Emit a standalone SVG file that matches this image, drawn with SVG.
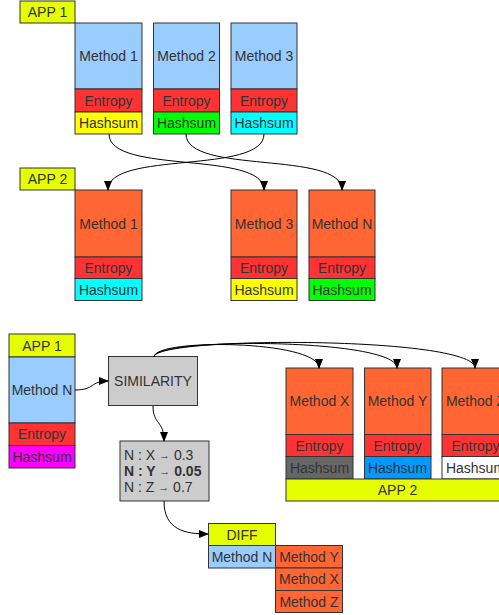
<svg xmlns="http://www.w3.org/2000/svg" width="499" height="615" viewBox="0 0 499 615">
<defs>
<marker id="ah" markerWidth="10" markerHeight="10" refX="9" refY="5" orient="auto" markerUnits="userSpaceOnUse">
<path d="M0,1 L10,5 L0,9 Z" fill="#000"/>
</marker>
<style>
.b rect{stroke:#333;stroke-width:1}
text{font-family:"Liberation Sans",Arial,sans-serif;font-size:14px;fill:#333;text-anchor:middle;dominant-baseline:central}
.app{fill:#e5ff00}
.m1{fill:#99ccff}
.m2{fill:#ff6633}
.en{fill:#ff3333}
.gr{fill:#cccccc}
.c{fill:none;stroke:#000;stroke-width:1;marker-end:url(#ah)}
.l{text-anchor:start}
</style>
</defs>
<rect width="499" height="615" fill="#fff"/>
<g class="b">
<g id="top-app1"><rect class="app" x="20" y="1" width="55" height="22"/><text x="47.5" y="12">APP 1</text></g>
<g id="a1-m1"><rect class="m1" x="75" y="23" width="67" height="66"/><text x="108.5" y="56">Method 1</text><rect class="en" x="75" y="89" width="67" height="23"/><text x="108.5" y="100.5">Entropy</text><rect fill="#ffff00" x="75" y="112" width="67" height="22"/><text x="108.5" y="123">Hashsum</text></g>
<g id="a1-m2"><rect class="m1" x="153.5" y="23" width="66" height="66"/><text x="186.5" y="56">Method 2</text><rect class="en" x="153.5" y="89" width="66" height="23"/><text x="186.5" y="100.5">Entropy</text><rect fill="#00ff00" x="153.5" y="112" width="66" height="22"/><text x="186.5" y="123">Hashsum</text></g>
<g id="a1-m3"><rect class="m1" x="231" y="23" width="66" height="66"/><text x="264" y="56">Method 3</text><rect class="en" x="231" y="89" width="66" height="23"/><text x="264" y="100.5">Entropy</text><rect fill="#00ffff" x="231" y="112" width="66" height="22"/><text x="264" y="123">Hashsum</text></g>
<g id="top-app2"><rect class="app" x="20" y="168" width="55" height="22"/><text x="47.5" y="179">APP 2</text></g>
<g id="a2-m1"><rect class="m2" x="75" y="190" width="67" height="67"/><text x="108.5" y="223.5">Method 1</text><rect class="en" x="75" y="257" width="67" height="21.5"/><text x="108.5" y="268">Entropy</text><rect fill="#00ffff" x="75" y="278.5" width="67" height="22"/><text x="108.5" y="289.5">Hashsum</text></g>
<g id="a2-m3"><rect class="m2" x="231" y="190" width="66" height="67"/><text x="264" y="223.5">Method 3</text><rect class="en" x="231" y="257" width="66" height="21.5"/><text x="264" y="268">Entropy</text><rect fill="#ffff00" x="231" y="278.5" width="66" height="22"/><text x="264" y="289.5">Hashsum</text></g>
<g id="a2-mN"><rect class="m2" x="309" y="190" width="66" height="67"/><text x="342" y="223.5">Method N</text><rect class="en" x="309" y="257" width="66" height="21.5"/><text x="342" y="268">Entropy</text><rect fill="#00ff00" x="309" y="278.5" width="66" height="22"/><text x="342" y="289.5">Hashsum</text></g>
<g id="b-app1"><rect class="app" x="9" y="334" width="66" height="23"/><text x="42" y="345.5">APP 1</text><rect class="m1" x="9" y="357" width="66" height="66"/><text x="42" y="390">Method N</text><rect class="en" x="9" y="423" width="66" height="22.5"/><text x="42" y="434">Entropy</text><rect fill="#ff00ff" x="9" y="445.5" width="66" height="22.5"/><text x="42" y="456.5">Hashsum</text></g>
<g id="similarity"><rect class="gr" x="108.5" y="356.5" width="89" height="49"/><text x="153" y="381">SIMILARITY</text></g>
<g id="result"><rect class="gr" x="120" y="441" width="89" height="60"/>
<text class="l" x="124" y="455">N : X <tspan font-size="11">→</tspan> 0.3</text>
<text class="l" x="124" y="471" font-weight="bold">N : Y <tspan font-size="11" font-weight="normal">→</tspan> 0.05</text>
<text class="l" x="124" y="487">N : Z <tspan font-size="11">→</tspan> 0.7</text></g>
<g id="b-mX"><rect class="m2" x="286" y="368" width="67" height="66.5"/><text x="319.5" y="401">Method X</text><rect class="en" x="286" y="434.5" width="67" height="22"/><text x="319.5" y="445.5">Entropy</text><rect fill="#666666" x="286" y="456.5" width="67" height="22.5"/><text x="319.5" y="467.5">Hashsum</text></g>
<g id="b-mY"><rect class="m2" x="364.5" y="368" width="66.5" height="66.5"/><text x="397.5" y="401">Method Y</text><rect class="en" x="364.5" y="434.5" width="66.5" height="22"/><text x="397.5" y="445.5">Entropy</text><rect fill="#0099ff" x="364.5" y="456.5" width="66.5" height="22.5"/><text x="397.5" y="467.5">Hashsum</text></g>
<g id="b-mZ"><rect class="m2" x="442" y="368" width="67" height="66.5"/><text x="475.5" y="401">Method Z</text><rect class="en" x="442" y="434.5" width="67" height="22"/><text x="475.5" y="445.5">Entropy</text><rect fill="#ffffff" x="442" y="456.5" width="67" height="22.5"/><text x="475.5" y="467.5">Hashsum</text></g>
<g id="b-app2"><rect class="app" x="286" y="479" width="223" height="22"/><text x="397.5" y="490">APP 2</text></g>
<g id="diff"><rect class="app" x="208.5" y="523.5" width="67" height="22"/><text x="242" y="534.5">DIFF</text><rect class="m1" x="208.5" y="545.5" width="67" height="22.5"/><text x="242" y="556.5">Method N</text></g>
<g id="diff-list"><rect class="m2" x="275.5" y="545.5" width="67" height="22.5"/><text x="309" y="556.5">Method Y</text><rect class="m2" x="275.5" y="568" width="67" height="22.5"/><text x="309" y="579">Method X</text><rect class="m2" x="275.5" y="590.5" width="67" height="22"/><text x="309" y="601.5">Method Z</text></g>
</g>
<g id="connectors">
<path class="c" d="M109,134 C109,175 264,150 264,190"/>
<path class="c" d="M186,134 C186,175 342,150 342,190"/>
<path class="c" d="M264,134 C264,175 108,150 108,190"/>
<path class="c" d="M75,390 C95,390 90,381 108,381"/>
<path class="c" d="M153,406 C153,425 164,420 164,441"/>
<path class="c" d="M164,501 C164,530 185,534 208,534"/>
<path class="c" d="M154,357 C154,338 319,340 319,368"/>
<path class="c" d="M154,357 C154,337 397,338 397,368"/>
<path class="c" d="M154,357 C154,336 475,336 475,368"/>
</g>
</svg>
